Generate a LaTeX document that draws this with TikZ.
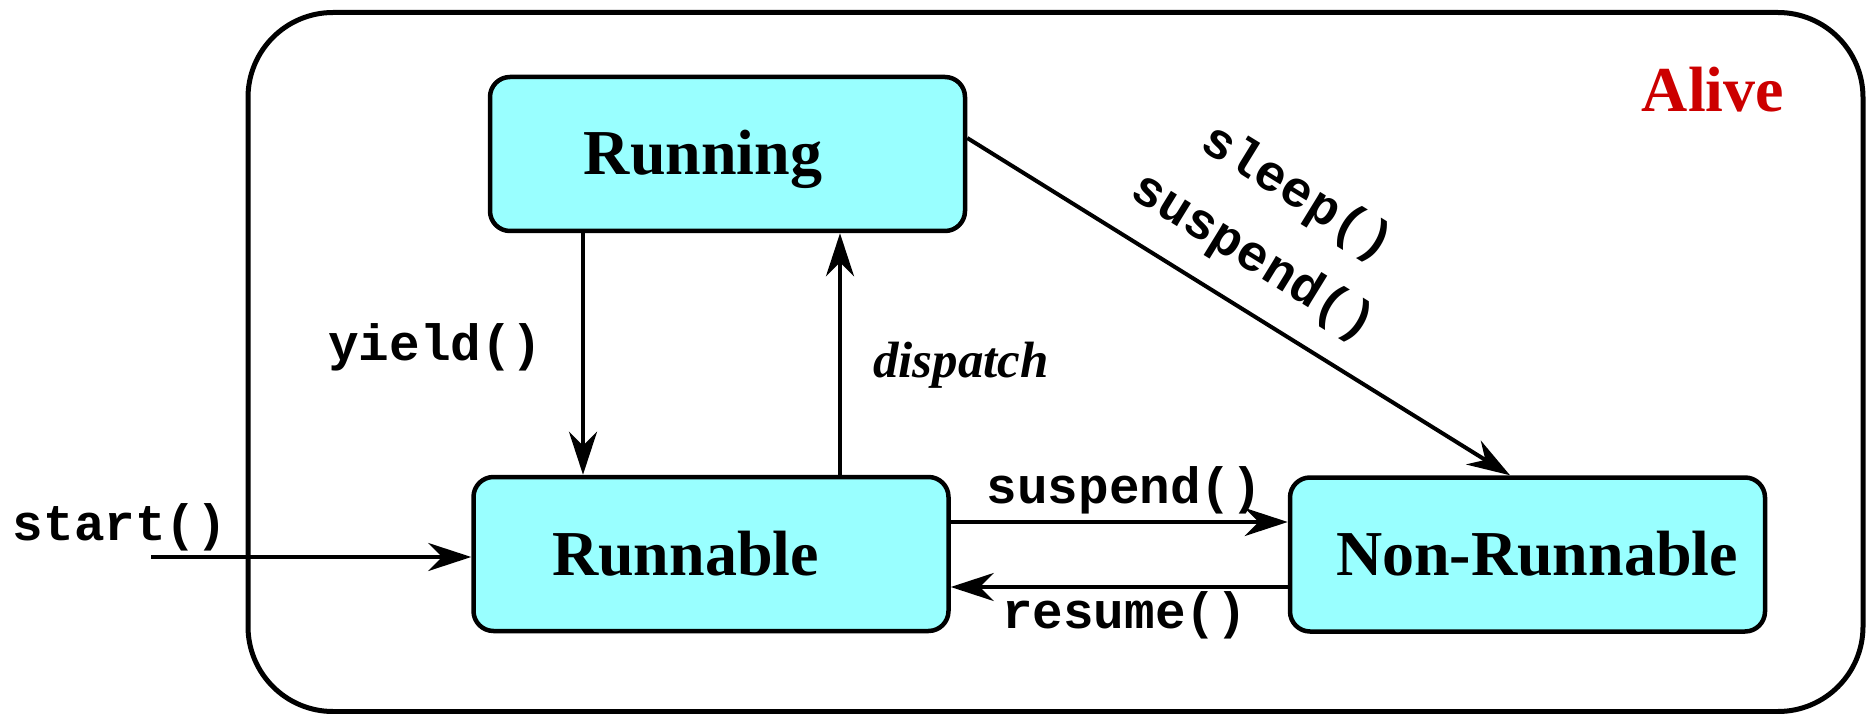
\documentclass[tikz,border=0pt]{standalone}
\usepackage{fontspec}
\setmainfont{Liberation Serif}
\setmonofont{Liberation Mono}
\usetikzlibrary{arrows.meta}
\definecolor{cyanfill}{HTML}{99FFFF}
\definecolor{alivered}{HTML}{CC0000}
\begin{document}
\begin{tikzpicture}[x=1pt,y=-1pt,
  state/.style={draw=black, line width=4.5pt, fill=cyanfill, rounded corners=20pt, minimum width=475pt, minimum height=154pt, inner sep=0pt},
  statetext/.style={font=\fontsize{64}{64}\selectfont\bfseries, anchor=base, inner sep=0pt},
  lbl/.style={font=\fontsize{51}{51}\selectfont\ttfamily\bfseries, anchor=base, inner sep=0pt},
  arr/.style={line width=4pt, -{Stealth[length=43pt,width=28pt,inset=14pt]}},
]
\useasboundingbox (0,0) rectangle (1872,714);
\node[draw, line width=5pt, rounded corners=85pt, minimum width=1615pt, minimum height=699pt] (alive) at (1055.5,362) {};
\node[state] (rg) at (727.5,154) {};
\node[state] (rn) at (711,554) {};
\node[state] (nr) at (1527.5,554.5) {};
\node[statetext] (tRunning) at (703,175) {Running};
\node[statetext] (tRunnable) at (685.5,575) {Runnable};
\node[statetext] (tNon) at (1537,575) {Non-Runnable};
\node[statetext, text=alivered] (tAlive) at (1713,112) {Alive};
\node[lbl] (lStart) at (120,540) {start()};
\node[lbl] (lYield) at (435.5,360) {yield()};
\node[font=\fontsize{51}{51}\selectfont\bfseries\itshape, anchor=base, inner sep=0pt] (lDispatch) at (961,377) {dispatch};
\node[lbl] (lSusp) at (1124.5,503) {suspend()};
\node[lbl] (lRes) at (1124.5,628) {resume()};
\node[lbl, rotate=-31.6] (lSleep) at (1290,205) {sleep()};
\node[lbl, rotate=-31.6] (lSusp2) at (1246,269) {suspend()};
\coordinate (startpt) at (151,557);
\draw[arr] (startpt) -- (startpt -| rn.west);
\coordinate (yx) at (583,0);
\draw[arr] (rg.south -| yx) -- (rn.north -| yx);
\coordinate (dx) at (840,0);
\draw[arr] (rn.north -| dx) -- (rg.south -| dx);
\coordinate (sx) at (1510,0);
\draw[arr] ([yshift=16pt]rg.east) -- (nr.north -| sx);
\coordinate (sy) at (0,522);
\draw[arr] (rn.east |- sy) -- (nr.west |- sy);
\coordinate (ry) at (0,587);
\draw[arr] (nr.west |- ry) -- (rn.east |- ry);
\end{tikzpicture}
\end{document}
